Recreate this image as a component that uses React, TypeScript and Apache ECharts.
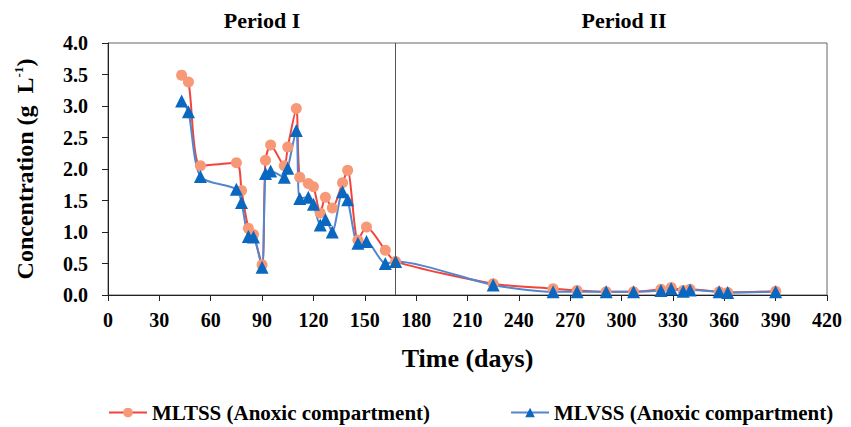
import React, { useEffect, useRef } from "react";
import * as echarts from "echarts";

const days = [43, 47, 54, 75, 78, 82, 85, 90, 92, 95, 103, 105, 110, 112, 117, 120, 124, 127, 131, 137, 140, 146, 151, 162, 168, 225, 260, 274, 291, 307, 323, 329, 336, 340, 357, 362, 390];
const mltss = [3.49, 3.38, 2.05, 2.10, 1.66, 1.06, 0.96, 0.48, 2.14, 2.38, 2.05, 2.35, 2.96, 1.87, 1.77, 1.72, 1.30, 1.55, 1.38, 1.78, 1.98, 0.87, 1.08, 0.71, 0.53, 0.18, 0.10, 0.07, 0.05, 0.05, 0.09, 0.12, 0.07, 0.09, 0.05, 0.04, 0.06];
const mlvss = [3.08, 2.91, 1.88, 1.68, 1.47, 0.93, 0.92, 0.44, 1.93, 1.97, 1.87, 2.01, 2.61, 1.53, 1.55, 1.44, 1.11, 1.20, 1.00, 1.64, 1.51, 0.82, 0.85, 0.50, 0.53, 0.16, 0.05, 0.05, 0.05, 0.05, 0.07, 0.10, 0.06, 0.08, 0.05, 0.04, 0.05];
const periodBoundary = 168;
const periodLabels = ["Period I", "Period II"];
const seriesNames = ["MLTSS (Anoxic compartment)", "MLVSS (Anoxic compartment)"];

const FONT = "'Liberation Serif', 'Times New Roman', serif";

export default function App() {
  const ref = useRef<HTMLDivElement>(null);
  useEffect(() => {
    if (!ref.current) return;
    const chart = echarts.init(ref.current, null, { renderer: "svg" });
    const pair = (ys: number[]) => days.map((d, i) => [d, ys[i]]);
    chart.setOption({
      animation: false,
      backgroundColor: "#ffffff",
      textStyle: { fontFamily: FONT },
      grid: {
        left: 108,
        right: 24,
        top: 43,
        bottom: 132,
        show: true,
        borderColor: "#666",
        borderWidth: 1,
      },
      graphic: [
        {
          type: "text",
          x: 262,
          y: 20,
          style: { text: periodLabels[0], font: `bold 22px ${FONT}`, fill: "#000", align: "center", verticalAlign: "middle" },
        },
        {
          type: "text",
          x: 624,
          y: 20,
          style: { text: periodLabels[1], font: `bold 22px ${FONT}`, fill: "#000", align: "center", verticalAlign: "middle" },
        },
      ],
      legend: {
        top: 397,
        left: 103,
        itemWidth: 38,
        itemHeight: 12,
        itemGap: 80,
        textStyle: { fontFamily: FONT, fontWeight: "bold", fontSize: 21, color: "#000" },
        data: seriesNames,
      },
      xAxis: {
        type: "value",
        min: 0,
        max: 420,
        interval: 30,
        name: "Time (days)",
        nameLocation: "middle",
        nameGap: 50,
        nameTextStyle: { fontFamily: FONT, fontWeight: "bold", fontSize: 26, color: "#000" },
        axisLine: { show: true, lineStyle: { color: "#222", width: 1 } },
        axisTick: { show: true, length: 6, lineStyle: { color: "#222" } },
        axisLabel: { margin: 15, fontFamily: FONT, fontWeight: "bold", fontSize: 20, color: "#000" },
        splitLine: { show: false },
      },
      yAxis: {
        type: "value",
        min: 0,
        max: 4,
        interval: 0.5,
        name: "{a|Concentration (g  L}{sup|-1}{a|)}",
        nameLocation: "middle",
        nameGap: 71,
        nameTextStyle: {
          rich: {
            a: { fontFamily: FONT, fontWeight: "bold", fontSize: 24, color: "#000" },
            sup: { fontFamily: FONT, fontWeight: "bold", fontSize: 13, color: "#000", verticalAlign: "top", padding: [0, 0, 12, 0] },
          },
        },
        axisLine: { show: true, lineStyle: { color: "#222", width: 1 } },
        axisTick: { show: true, length: 6, lineStyle: { color: "#222" } },
        axisLabel: {
          margin: 20,
          fontFamily: FONT,
          fontWeight: "bold",
          fontSize: 20,
          color: "#000",
          formatter: (v: number) => v.toFixed(1),
        },
        splitLine: { show: false },
      },
      series: [
        {
          name: seriesNames[0],
          type: "line",
          data: pair(mltss),
          smooth: 0.25,
          symbol: "circle",
          symbolSize: 11,
          itemStyle: { color: "#F79877" },
          lineStyle: { color: "#F2443A", width: 2 },
          markLine: {
            silent: true,
            symbol: "none",
            label: { show: false },
            lineStyle: { color: "#555", width: 1, type: "solid" },
            data: [{ xAxis: periodBoundary }],
          },
        },
        {
          name: seriesNames[1],
          type: "line",
          data: pair(mlvss),
          smooth: 0.25,
          symbol: "triangle",
          symbolSize: 13,
          itemStyle: { color: "#0A68C0" },
          lineStyle: { color: "#5386CC", width: 2 },
        },
      ],
    });
    return () => chart.dispose();
  }, []);
  return <div ref={ref} style={{ position: "fixed", left: 0, top: 0, width: 851, height: 427 }} />;
}
